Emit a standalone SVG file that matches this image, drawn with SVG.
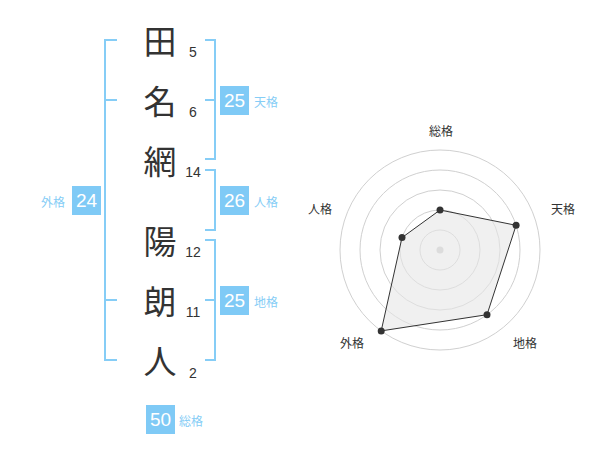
<svg xmlns="http://www.w3.org/2000/svg" width="600" height="470" viewBox="0 0 600 470">
<style>
.ch{font-family:"Noto Sans CJK JP","Noto Sans CJK SC",sans-serif;font-size:33px;fill:#333;text-anchor:middle;dominant-baseline:central}
.num{font-family:"Liberation Sans",Arial,sans-serif;font-size:14px;fill:#333;text-anchor:middle}
.br{fill:none;stroke:#86cdf6;stroke-width:2}
.box{fill:#7fcaf6}
.bv{font-family:"Liberation Sans",Arial,sans-serif;font-size:19px;fill:#fff;text-anchor:middle;dominant-baseline:central}
.bl{font-family:"Noto Sans CJK JP","Noto Sans CJK SC",sans-serif;font-size:12px;fill:#86cdf6;dominant-baseline:central}
.ring{fill:none;stroke:#d0d0d0;stroke-width:1}
.rl{font-family:"Noto Sans CJK JP","Noto Sans CJK SC",sans-serif;font-size:12px;fill:#333;text-anchor:middle;dominant-baseline:central}
.pt{fill:#333}
</style>
<g id="name">
<text class="ch" x="160" y="40">田</text>
<text class="ch" x="160" y="100">名</text>
<text class="ch" x="160" y="160">網</text>
<text class="ch" x="160" y="240">陽</text>
<text class="ch" x="160" y="300">朗</text>
<text class="ch" x="160" y="360">人</text>
</g>
<g id="strokes">
<text class="num" x="193" y="57">5</text>
<text class="num" x="193" y="117">6</text>
<text class="num" x="193" y="177">14</text>
<text class="num" x="193" y="257">12</text>
<text class="num" x="193" y="317">11</text>
<text class="num" x="193" y="378">2</text>
</g>
<g id="brackets">
<path class="br" d="M117,40 H105 V360 H117 M105,100 H117 M105,300 H117"/>
<path class="br" d="M205,40 H215 V159 H205 M215,100 H205"/>
<path class="br" d="M205,170 H215 V230 H205"/>
<path class="br" d="M205,240 H215 V360 H205 M215,300 H205"/>
</g>
<g id="tenkaku">
<rect class="box" x="220" y="86" width="29" height="29"/>
<text class="bv" x="234.5" y="100.5">25</text>
<text class="bl" x="254" y="101">天格</text>
</g>
<g id="jinkaku">
<rect class="box" x="220" y="186" width="29" height="29"/>
<text class="bv" x="234.5" y="200.5">26</text>
<text class="bl" x="254" y="201">人格</text>
</g>
<g id="chikaku">
<rect class="box" x="220" y="286" width="29" height="29"/>
<text class="bv" x="234.5" y="300.5">25</text>
<text class="bl" x="254" y="301">地格</text>
</g>
<g id="gaikaku">
<rect class="box" x="72" y="186" width="29" height="29"/>
<text class="bv" x="86.5" y="200.5">24</text>
<text class="bl" x="41" y="201">外格</text>
</g>
<g id="soukaku">
<rect class="box" x="146" y="405" width="29" height="29"/>
<text class="bv" x="160.5" y="419.5">50</text>
<text class="bl" x="179" y="420">総格</text>
</g>
<g id="radar">
<circle class="ring" cx="440" cy="250" r="20"/>
<circle class="ring" cx="440" cy="250" r="40"/>
<circle class="ring" cx="440" cy="250" r="60"/>
<circle class="ring" cx="440" cy="250" r="80"/>
<circle class="ring" cx="440" cy="250" r="100"/>
<circle cx="440" cy="250" r="3.5" fill="#ccc"/>
<polygon points="440,210 516.1,225.3 487,314.7 381.2,330.9 402,237.6" fill="#e6e6e6" fill-opacity="0.6" stroke="#333" stroke-width="1"/>
<circle class="pt" cx="440" cy="210" r="3.5"/>
<circle class="pt" cx="516.1" cy="225.3" r="3.5"/>
<circle class="pt" cx="487" cy="314.7" r="3.5"/>
<circle class="pt" cx="381.2" cy="330.9" r="3.5"/>
<circle class="pt" cx="402" cy="237.6" r="3.5"/>
<text class="rl" x="441" y="130">総格</text>
<text class="rl" x="563" y="208">天格</text>
<text class="rl" x="525" y="342">地格</text>
<text class="rl" x="352" y="342">外格</text>
<text class="rl" x="320" y="208">人格</text>
</g>
</svg>
